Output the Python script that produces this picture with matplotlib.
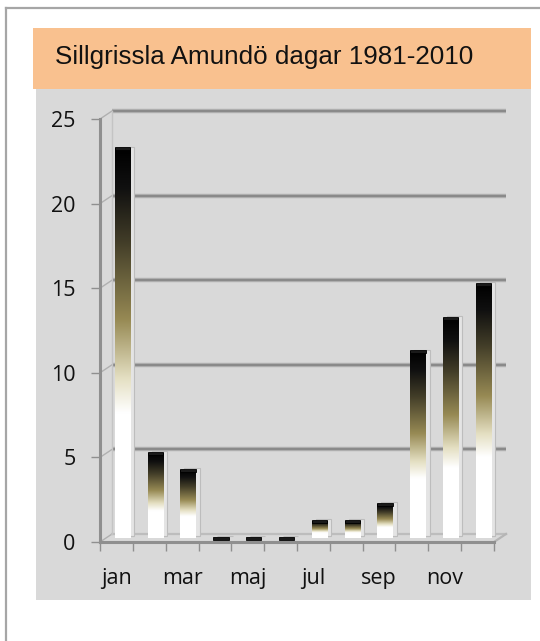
import numpy as np
import matplotlib
matplotlib.use("Agg")
import matplotlib.pyplot as plt
from matplotlib.patches import Rectangle
from matplotlib.lines import Line2D
from matplotlib.colors import LinearSegmentedColormap

# ---------------------------------------------------------------------------
# Data
# ---------------------------------------------------------------------------
TITLE = "Sillgrissla Amundö dagar 1981-2010"
MONTHS = ["jan", "feb", "mar", "apr", "maj", "jun",
          "jul", "aug", "sep", "okt", "nov", "dec"]
DAYS = [23, 5, 4, 0, 0, 0, 1, 1, 2, 11, 13, 15]
Y_TICKS = [0, 5, 10, 15, 20, 25]

# ---------------------------------------------------------------------------
# Layout (pixels, y measured from the top)
# ---------------------------------------------------------------------------
W, H = 540, 641
AX_L, AX_R, AX_T, AX_B = 100, 494, 119, 542
DEPTH = (12, 8)          # back wall offset in px
BAR_DEPTH = (6, 4)       # bars sit half way back


def fx(x):
    return x / W


def fy(y):
    return 1 - y / H


fig = plt.figure(figsize=(W / 100, H / 100), dpi=100)
fig.patch.set_facecolor("white")

# outer frame (left + top)
fig.add_artist(Line2D([fx(6), fx(6)], [fy(8), fy(H)], color="#a6a6a6", lw=1.6,
                      zorder=-5))
fig.add_artist(Line2D([fx(6), fx(W)], [fy(8), fy(8)], color="#a6a6a6", lw=1.6,
                      zorder=-5))

# title band and plot area
fig.add_artist(Rectangle((fx(33), fy(89)), fx(531) - fx(33), fy(28) - fy(89),
                         facecolor="#f9c18f", edgecolor="none", zorder=-5))
fig.add_artist(Rectangle((fx(36), fy(600)), fx(531) - fx(36), fy(89) - fy(600),
                         facecolor="#d9d9d9", edgecolor="none", zorder=-5))
fig.text(fx(55), fy(57), TITLE, fontsize=18.7, family="Liberation Sans",
         va="center", ha="left", color="#111111")

ax = fig.add_axes([fx(AX_L), fy(AX_B), fx(AX_R) - fx(AX_L), fy(AX_T) - fy(AX_B)])
ax.set_facecolor("none")
n = len(MONTHS)
ax.set_xlim(0, n)
ax.set_ylim(0, Y_TICKS[-1])

ux = (AX_R - AX_L) / n                  # px per month
uy = (AX_B - AX_T) / Y_TICKS[-1]        # px per day
dx, dy = DEPTH[0] / ux, DEPTH[1] / uy
bdx, bdy = BAR_DEPTH[0] / ux, BAR_DEPTH[1] / uy

# back wall gridlines + side connectors
for v in Y_TICKS:
    if v > 0:
        ax.plot([dx, n + dx], [v + dy, v + dy], color="#b3b3b3", lw=3.2,
                solid_capstyle="butt", clip_on=False, zorder=1)
        ax.plot([dx, n + dx], [v + dy, v + dy], color="#8a8a8a", lw=1.6,
                solid_capstyle="butt", clip_on=False, zorder=1)
    ax.plot([0, dx], [v, v + dy], color="#b0b0b0", lw=1.0, clip_on=False,
            zorder=1)

# floor
ax.plot([dx, n + dx], [dy, dy], color="#bdbdbd", lw=1.6, clip_on=False, zorder=1)
ax.plot([n, n + dx], [0, dy], color="#b5b5b5", lw=1.6, clip_on=False, zorder=1)
ax.plot([dx, dx], [dy, Y_TICKS[-1] + dy], color="#c4c4c4", lw=1.0,
        clip_on=False, zorder=1)

# bars with vertical gradient
cmap = LinearSegmentedColormap.from_list("bar", [
    (0.00, "#ffffff"), (0.32, "#ffffff"), (0.41, "#e4dfc2"),
    (0.56, "#978a54"), (0.76, "#423d28"), (0.90, "#101010"), (1.00, "#000000")])
grad = np.linspace(0, 1, 256).reshape(-1, 1)
bw = 0.47
cap = 3.0 / uy
for i, v in enumerate(DAYS):
    x0 = i + 0.5 - bw / 2 + bdx
    y0 = bdy
    # pale back face
    ax.add_patch(Rectangle((x0 + 4 / ux, y0 + 2 / uy), bw, v, facecolor="#e4e4e4",
                           edgecolor="#bdbdbd", lw=0.8, zorder=2, clip_on=False))
    if v > 0:
        ax.imshow(grad, cmap=cmap, origin="lower", aspect="auto",
                  extent=[x0, x0 + bw, y0, y0 + v], zorder=3, clip_on=False,
                  interpolation="bilinear")
    ax.add_patch(Rectangle((x0, y0 + v - cap / 2), bw, cap, facecolor="#1a1a1a",
                           edgecolor="#000000", lw=0.6, zorder=4, clip_on=False))

ax.set_xlim(0, n)
ax.set_ylim(0, Y_TICKS[-1])

# axes styling
for side in ["top", "right"]:
    ax.spines[side].set_visible(False)
for side in ["left", "bottom"]:
    ax.spines[side].set_color("#8f8f8f")
    ax.spines[side].set_linewidth(2.2)
    ax.spines[side].set_zorder(5)

ax.set_yticks(Y_TICKS)
ax.set_yticklabels([str(t) for t in Y_TICKS])
ax.set_xticks(range(n + 1))
ax.set_xticklabels([])
ax.set_xticks([i + 0.5 for i in range(n)], minor=True)
ax.set_xticklabels([m if i % 2 == 0 else "" for i, m in enumerate(MONTHS)],
                   minor=True)
ax.tick_params(axis="both", which="major", length=6.5, width=1.0,
               color="#8f8f8f")
ax.tick_params(axis="y", pad=11, labelsize=15.5, labelcolor="#111111")
ax.tick_params(axis="x", which="minor", length=0, pad=19, labelsize=15.5,
               labelcolor="#111111")
for lab in ax.get_yticklabels() + ax.get_xticklabels(minor=True):
    lab.set_family("Open Sans")

fig.savefig("out.png", dpi=100)
